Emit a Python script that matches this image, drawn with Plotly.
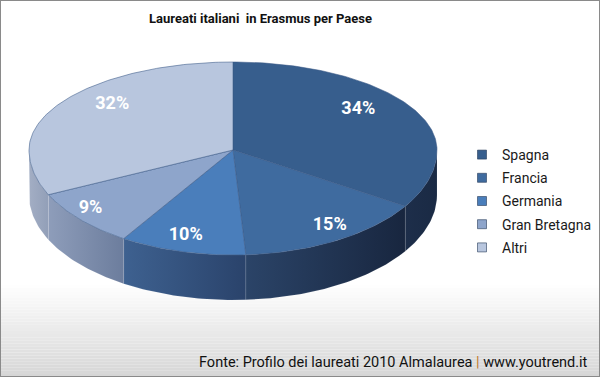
import math
import plotly.graph_objects as go

# ---- data ----
categories = ["Spagna", "Francia", "Germania", "Gran Bretagna", "Altri"]
values = [34, 15, 10, 9, 32]
top_colors = ["#375E8D", "#3F6B9F", "#4A7EBB", "#8EA5CB", "#B8C6DE"]
side_left = ["#1d2e4a", "#2b4468", "#3e6190", "#8e9dba", "#a3aec4"]
side_right = ["#1a2a44", "#18263f", "#2a436b", "#6c7d9d", "#929fb8"]

title_text = "Laureati italiani  in Erasmus per Paese"
source_text = ("Fonte: Profilo dei laureati 2010 Almalaurea "
               "<span style='color:#c0782a'>|</span> www.youtrend.it")

# ---- geometry (pixel space) ----
W, H = 600, 377
CX, CY = 233, 150
RX, RY_TOP, RY_BOT = 204, 88, 105
DEPTH = 45
FONT = "Roboto, Arial, sans-serif"


def pt(theta, drop=0.0, rx=RX, ry_top=RY_TOP, ry_bot=RY_BOT):
    t = math.radians(theta)
    c = math.cos(t)
    ry = ry_top if c > 0 else ry_bot
    return CX + rx * math.sin(t), CY - ry * c + drop


def arc(a, b, drop=0.0):
    n = max(2, int(abs(b - a)) + 1)
    return [pt(a + (b - a) * i / (n - 1), drop) for i in range(n)]


total = sum(values)
starts, ends = [], []
acc = 0.0
for v in values:
    starts.append(acc / total * 360)
    acc += v
    ends.append(acc / total * 360)

fig = go.Figure()

# side walls (visible front half: 90..270 deg)
for i, cat in enumerate(categories):
    lo, hi = max(starts[i], 90), min(ends[i], 270)
    if lo >= hi:
        continue
    upper = arc(lo, hi)
    lower = arc(hi, lo, DEPTH)
    poly = upper + lower + [upper[0]]
    fig.add_trace(go.Scatter(
        x=[p[0] for p in poly], y=[p[1] for p in poly],
        mode="lines", fill="toself",
        line=dict(width=0.6, color="rgba(255,255,255,0.15)"),
        fillgradient=dict(type="horizontal",
                          colorscale=[[0, side_left[i]], [1, side_right[i]]]),
        hoverinfo="skip", showlegend=False))

# top faces
for i, cat in enumerate(categories):
    poly = [(CX, CY)] + arc(starts[i], ends[i]) + [(CX, CY)]
    fig.add_trace(go.Scatter(
        x=[p[0] for p in poly], y=[p[1] for p in poly],
        mode="lines", fill="toself", fillcolor=top_colors[i],
        line=dict(width=0.8, color="rgba(60,90,135,0.7)"),
        name=cat, hoverinfo="name", showlegend=False))

# percentage labels
lx, ly, lt = [], [], []
for i, v in enumerate(values):
    mid = (starts[i] + ends[i]) / 2
    c = math.cos(math.radians(mid))
    x, y = pt(mid, rx=143 if c > 0 else 190, ry_top=84, ry_bot=88)
    lx.append(x)
    ly.append(y)
    lt.append(f"{round(v / total * 100)}%")
fig.add_trace(go.Scatter(
    x=lx, y=ly, text=lt, mode="text",
    textfont=dict(family="Roboto, sans-serif", size=18, color="white", weight="bold"),
    hoverinfo="skip", showlegend=False))

# legend entries
for i, cat in enumerate(categories):
    fig.add_trace(go.Scatter(
        x=[None], y=[None], mode="markers", name=cat,
        legendgroup=cat,
        marker=dict(symbol="square", size=9, color=top_colors[i],
                    line=dict(width=1, color="rgba(40,60,90,0.6)"))))

# background gradient band (bottom)
shapes = []
steps = 30
y0 = 285
for k in range(steps):
    ya = y0 + (H - y0) * k / steps
    yb = y0 + (H - y0) * (k + 1) / steps
    g = int(255 - (255 - 214) * ((k + 0.5) / steps))
    shapes.append(dict(type="rect", xref="x", yref="y", x0=0, x1=W, y0=ya, y1=yb,
                       fillcolor=f"rgb({g},{g},{g})", line=dict(width=0), layer="below"))
# outer border
shapes.append(dict(type="rect", xref="paper", yref="paper", x0=0, x1=1, y0=0, y1=1,
                   line=dict(width=2, color="#8a8a8a"), fillcolor="rgba(0,0,0,0)"))

fig.update_layout(
    width=W, height=H,
    margin=dict(l=0, r=0, t=0, b=0),
    paper_bgcolor="white", plot_bgcolor="rgba(0,0,0,0)",
    xaxis=dict(range=[0, W], visible=False, fixedrange=True),
    yaxis=dict(range=[H, 0], visible=False, fixedrange=True),
    shapes=shapes,
    showlegend=True,
    legend=dict(x=0.77, xanchor="left", y=1 - 201 / H, yanchor="middle",
                traceorder="grouped", tracegroupgap=2, itemwidth=30,
                font=dict(family=FONT, size=14, color="#1a1a1a"),
                bgcolor="rgba(0,0,0,0)"),
    annotations=[
        dict(text=f"<b>{title_text}</b>", x=260, y=18, xref="x", yref="y",
             showarrow=False, xanchor="center", yanchor="middle",
             font=dict(family=FONT, size=13, color="#111")),
        dict(text=source_text, x=590, y=362, xref="x", yref="y",
             showarrow=False, xanchor="right", yanchor="middle",
             font=dict(family=FONT, size=14.5, color="#111")),
    ],
)

fig.write_html("out.html",
               config={"displayModeBar": False},
               post_script="document.body.style.margin='0';document.body.style.overflow='hidden';")
